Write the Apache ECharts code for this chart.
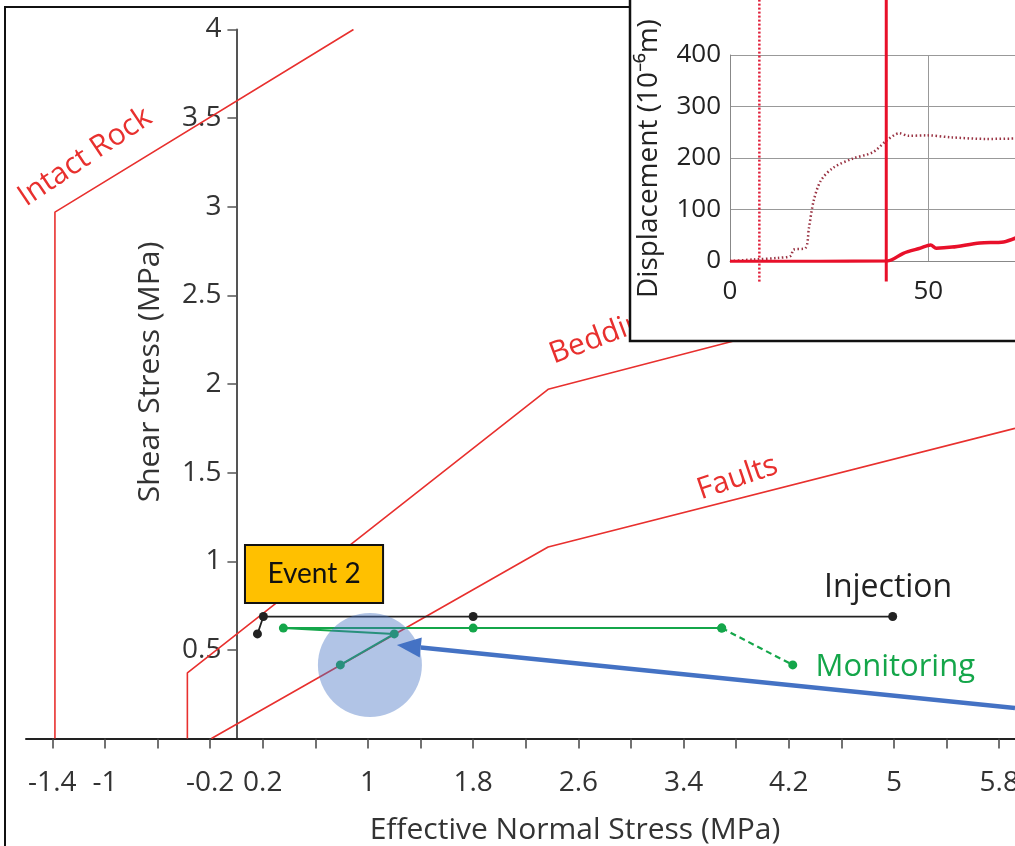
<!DOCTYPE html>
<html><head><meta charset="utf-8">
<script src="https://cdn.jsdelivr.net/npm/echarts@6/dist/echarts.min.js"></script>
<style>html,body{margin:0;padding:0;background:#fff}#c{width:1015px;height:846px}</style>
</head><body><div id="c"></div>
<script>
// ---------- main chart data (MPa) ----------
const xTickValues = [-1.4,-1,-0.6,-0.2,0.2,0.6,1,1.4,1.8,2.2,2.6,3,3.4,3.8,4.2,4.6,5,5.4,5.8];
const xLabelValues = [-1.4,-1,-0.2,0.2,1,1.8,2.6,3.4,4.2,5,5.8];
const yLabelValues = [0.5,1,1.5,2,2.5,3,3.5,4];
const intactRock = [[-1.38,0],[-1.38,2.97],[0.89,4.0]];
const bedding = [[-0.373,0],[-0.373,0.37],[2.37,1.97],[4.6,2.40]];
const faults = [[-0.19,0],[2.37,1.08],[5.92,1.75]];
const injection = [[0.16,0.59],[0.205,0.688],[1.8,0.688],[4.99,0.688]];
const monitoring = [[0.79,0.415],[1.2,0.59],[0.357,0.623],[1.8,0.623],[3.69,0.623]];
const monitoringTail = [[3.69,0.623],[4.23,0.415]];
// ---------- inset data (time, displacement 1e-6 m) ----------
const insetXLabels = [0,50,100];
const insetYLabels = [0,100,200,300,400];
const dottedDisp = [[0,0],[6,3],[12,6],[15.3,10],[16,22],[19,25],[19.9,64],[21.1,117],[22.9,156],[26,181],[31,199],[36,211],[39.5,234],[42.7,248],[45,243],[49.6,244],[56,240],[64.7,237],[73,238]];
const solidDisp = [[0,-1],[39.7,0],[43.7,15],[48,25],[50.6,31],[52,25],[56,27],[63,35],[69,37],[73,48]];
const markerDotted = [[7.4,-40],[7.4,520]];
const markerSolid = [[39.4,-40],[39.4,520]];
// ---------- annotation anchors (data coords) ----------
const eventBox = [0.065,1.092,1.115,0.764];
const circleCenter = [1.015,0.415];
const arrowFrom = [5.92,0.172];
const arrowTo = [1.22,0.527];
const labelIntact = [-1.151,3.28];
const labelBedding = [2.43,2.08];
const labelFaults = [3.81,1.47];
const labelInjection = [4.955,0.849];
const labelMonitoring = [5.01,0.403];

const X_MIN = -1.6, X_MAX = 5.92, G_LEFT = 26, G_RIGHT = 0, W = 1015;
const yOffset = -(0 - X_MIN) * (W - G_LEFT - G_RIGHT) / (X_MAX - X_MIN);

const RED = '#e8302e', GREEN = '#14a64a', FONT = 'Open Sans';
const chart = echarts.init(document.getElementById('c'), null, {renderer:'canvas'});

const redLine = (name, data) => ({name, type:'line', data, xAxisIndex:0, yAxisIndex:0, symbol:'none',
  lineStyle:{color:RED, width:1.6}, z:2, animation:false});

chart.setOption({
  animation:false,
  backgroundColor:'#fff',
  grid:[
    {left:G_LEFT, right:G_RIGHT, top:29.5, bottom:107.5, containLabel:false, outerBoundsMode:'none'},
    {left:730, top:55, width:396.6, height:206, zlevel:1, z:5, containLabel:false, outerBoundsMode:'none'}
  ],
  xAxis:[
    {type:'value', gridIndex:0, min:X_MIN, max:X_MAX,
     axisLine:{show:true, onZero:false, lineStyle:{color:'#222', width:2}},
     axisTick:{show:true, length:10, customValues:xTickValues, lineStyle:{color:'#444', width:1.5}},
     axisLabel:{show:true, customValues:xLabelValues, margin:31, fontSize:28, fontFamily:FONT, color:'#333'},
     splitLine:{show:false}},
    {type:'value', gridIndex:1, min:0, max:100, interval:50, zlevel:1, z:5,
     axisLine:{show:true, lineStyle:{color:'#888', width:1}},
     axisTick:{show:false},
     axisLabel:{show:true, margin:18, fontSize:26, fontFamily:FONT, color:'#222'},
     splitLine:{show:true, lineStyle:{color:'#999', width:1}}}
  ],
  yAxis:[
    {type:'value', gridIndex:0, min:0, max:4, offset:yOffset,
     axisLine:{show:true, onZero:false, lineStyle:{color:'#555', width:2}},
     axisTick:{show:true, length:9, customValues:yLabelValues, lineStyle:{color:'#555', width:1.5}},
     axisLabel:{show:true, customValues:yLabelValues, margin:15, fontSize:28, fontFamily:FONT, color:'#333'},
     splitLine:{show:false}},
    {type:'value', gridIndex:1, min:0, max:400, interval:100, zlevel:1, z:5,
     axisLine:{show:true, lineStyle:{color:'#888', width:1}},
     axisTick:{show:false},
     axisLabel:{show:true, margin:9, fontSize:26, fontFamily:FONT, color:'#222'},
     splitLine:{show:true, lineStyle:{color:'#999', width:1}}}
  ],
  series:[
    redLine('Intact Rock', intactRock),
    redLine('Bedding', bedding),
    redLine('Faults', faults),
    {name:'Injection', type:'line', data:injection, symbol:'circle', symbolSize:9,
     itemStyle:{color:'#222'}, lineStyle:{color:'#222', width:1.8}, z:4},
    {name:'Monitoring', type:'line', data:monitoring, symbol:'circle', symbolSize:9,
     itemStyle:{color:GREEN}, lineStyle:{color:GREEN, width:2}, z:3},
    {name:'MonitoringTail', type:'line', data:monitoringTail, symbol:'circle', symbolSize:9,
     itemStyle:{color:GREEN}, lineStyle:{color:GREEN, width:2.2, type:[6,4]}, z:3},
    // inset
    {name:'dotted', type:'line', data:dottedDisp, xAxisIndex:1, yAxisIndex:1, symbol:'none', smooth:0.3,
     lineStyle:{color:'#9a3444', width:2.5, type:[1.5,2.5]}, zlevel:1, z:6},
    {name:'solid', type:'line', data:solidDisp, xAxisIndex:1, yAxisIndex:1, symbol:'none', smooth:0.3,
     lineStyle:{color:'#e8102a', width:3.5}, zlevel:1, z:7},
    {name:'vDotted', type:'line', data:markerDotted, xAxisIndex:1, yAxisIndex:1, symbol:'none', clip:false,
     lineStyle:{color:'#e0203a', width:2.5, type:[2,2]}, zlevel:1, z:7},
    {name:'vSolid', type:'line', data:markerSolid, xAxisIndex:1, yAxisIndex:1, symbol:'none', clip:false,
     lineStyle:{color:'#e8102a', width:3}, zlevel:1, z:7}
  ]
});

function P(p){ return chart.convertToPixel({gridIndex:0}, p); }
const b1 = P([eventBox[0],eventBox[1]]), b2 = P([eventBox[2],eventBox[3]]);
const cc = P(circleCenter), a0 = P(arrowFrom), a1 = P(arrowTo);
const ang = Math.atan2(a1[1]-a0[1], a1[0]-a0[0]);
const headL = 24, headW = 10;
const hb = [a1[0]-headL*Math.cos(ang), a1[1]-headL*Math.sin(ang)];
const nx = -Math.sin(ang), ny = Math.cos(ang);

function txt(pos, text, color, size, rot){
  const p = P(pos);
  return {type:'text', x:p[0], y:p[1], rotation:rot||0, z:20,
    style:{text, fill:color, font:size+'px "'+FONT+'"', align:'center', verticalAlign:'middle', textAlign:'center', textVerticalAlign:'middle'}};
}
const bp = P(labelBedding);

chart.setOption({graphic:{elements:[
  // outer frame
  {type:'rect', shape:{x:5, y:7, width:1100, height:900}, style:{fill:'none', stroke:'#111', lineWidth:2}, z:30},
  // inset box
  {type:'rect', shape:{x:630, y:-10, width:500, height:351}, style:{fill:'#fff', stroke:'#111', lineWidth:2.5}, zlevel:1, z:1},
  {type:'text', x:649, y:298, rotation:Math.PI/2, zlevel:1, z:8,
   style:{text:'Displacement (10\u207B\u2076m)', fill:'#222', font:'28px "'+FONT+'"', align:'left', verticalAlign:'middle', textAlign:'left', textVerticalAlign:'middle'}},
  // axis titles
  {type:'text', x:575, y:830, z:20, style:{text:'Effective Normal Stress (MPa)', fill:'#333', font:'30px "'+FONT+'"', align:'center', verticalAlign:'middle', textAlign:'center', textVerticalAlign:'middle'}},
  {type:'text', x:150, y:372, rotation:Math.PI/2, z:20, style:{text:'Shear Stress (MPa)', fill:'#333', font:'30px "'+FONT+'"', align:'center', verticalAlign:'middle', textAlign:'center', textVerticalAlign:'middle'}},
  // envelope labels
  txt(labelIntact, 'Intact Rock', RED, 30, 0.59),
  {type:'text', x:bp[0], y:bp[1], rotation:0.36, z:20, style:{text:'Bedding', fill:RED, font:'30px "'+FONT+'"', align:'left', verticalAlign:'bottom', textAlign:'left', textVerticalAlign:'bottom'}},
  txt(labelFaults, 'Faults', RED, 30, 0.33),
  txt(labelInjection, 'Injection', '#222', 32, 0),
  txt(labelMonitoring, 'Monitoring', GREEN, 31, 0),
  // circle
  {type:'circle', shape:{cx:cc[0], cy:cc[1], r:52}, style:{fill:'rgba(68,114,196,0.42)'}, z:40},
  // event box
  {type:'rect', shape:{x:b1[0], y:b1[1], width:b2[0]-b1[0], height:b2[1]-b1[1]}, style:{fill:'#ffc000', stroke:'#111', lineWidth:2}, z:41},
  {type:'text', x:(b1[0]+b2[0])/2, y:(b1[1]+b2[1])/2, z:42, style:{text:'Event 2', fill:'#111', font:'28px Lato', align:'center', verticalAlign:'middle', textAlign:'center', textVerticalAlign:'middle'}},
  // arrow
  {type:'line', shape:{x1:a0[0], y1:a0[1], x2:hb[0], y2:hb[1]}, style:{stroke:'#4472c4', lineWidth:4.5}, z:43},
  {type:'polygon', shape:{points:[[a1[0],a1[1]],[hb[0]+nx*headW, hb[1]+ny*headW],[hb[0]-nx*headW, hb[1]-ny*headW]]}, style:{fill:'#4472c4'}, z:43}
]}});
</script></body></html>
